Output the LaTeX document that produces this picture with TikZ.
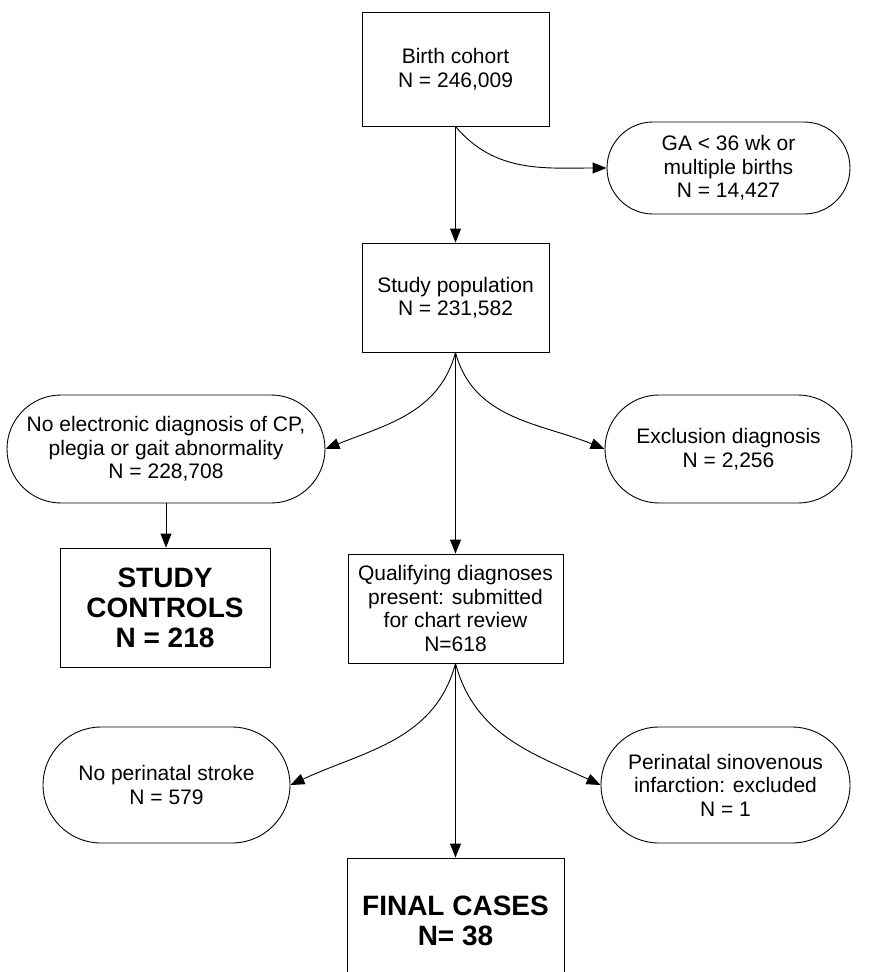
\documentclass[tikz,border=0pt]{standalone}
\usepackage{fontspec}
\setmainfont{Liberation Sans}
\usetikzlibrary{arrows.meta}
\begin{document}
\begin{tikzpicture}[x=1pt,y=1pt,
  txt/.style={align=center, inner sep=0pt, font=\fontsize{21}{23.5}\selectfont},
  box/.style={txt, draw, line width=0.9pt},
  oval/.style={txt, draw, line width=0.9pt},
  bigbox/.style={draw, line width=0.9pt, align=center, inner sep=0pt, font=\fontsize{28}{30}\selectfont\bfseries},
  arr/.style={line width=0.9pt, -{Triangle[length=14pt,width=11pt]}}]
\useasboundingbox (0,0) rectangle (878,-972);
\node[box, minimum width=187pt, minimum height=114pt] (birth) at (455.5,-69) {Birth cohort\\N = 246,009};
\node[oval, minimum width=243pt, minimum height=92pt, rounded corners=46pt] (ga) at (728.5,-168) {GA < 36 wk or\\multiple births\\N = 14,427};
\node[box, minimum width=187pt, minimum height=109pt] (study) at (455.5,-297.5) {Study population\\N = 231,582};
\node[oval, minimum width=318pt, minimum height=108pt, rounded corners=54pt] (noelec) at (166,-449) {No electronic diagnosis of CP,\\plegia or gait abnormality\\N = 228,708};
\node[oval, minimum width=247pt, minimum height=108pt, rounded corners=54pt] (excl) at (728.5,-449) {Exclusion diagnosis\\N = 2,256};
\node[bigbox, minimum width=210pt, minimum height=119pt] (controls) at (165,-607.5) {STUDY\\CONTROLS\\N = 218};
\node[box, minimum width=215pt, minimum height=109pt] (qual) at (455.5,-608.5) {Qualifying diagnoses\\present: submitted\\for chart review\\N=618};
\node[oval, minimum width=247pt, minimum height=116pt, rounded corners=58pt] (nostroke) at (166.5,-785) {No perinatal stroke\\N = 579};
\node[oval, minimum width=249pt, minimum height=116pt, rounded corners=58pt] (sino) at (725.5,-785) {Perinatal sinovenous\\infarction: excluded\\N = 1};
\node[bigbox, minimum width=217pt, minimum height=126pt] (final) at (455.5,-921) {FINAL CASES\\N= 38};
\draw[arr] (birth.south) -- (study.north);
\draw[arr] (birth.south) to[out=-50, in=180] (ga.west);
\draw[arr] (study.south) to[out=-105, in=22] (noelec.east);
\draw[arr] (study.south) to[out=-75, in=158] (excl.west);
\draw[arr] (study.south) -- (qual.north);
\draw[arr] (noelec.south) -- (noelec.south |- controls.north);
\draw[arr] (qual.south) to[out=-105, in=25] (nostroke.east);
\draw[arr] (qual.south) to[out=-75, in=155] (sino.west);
\draw[arr] (qual.south) -- (final.north);
\end{tikzpicture}
\end{document}
